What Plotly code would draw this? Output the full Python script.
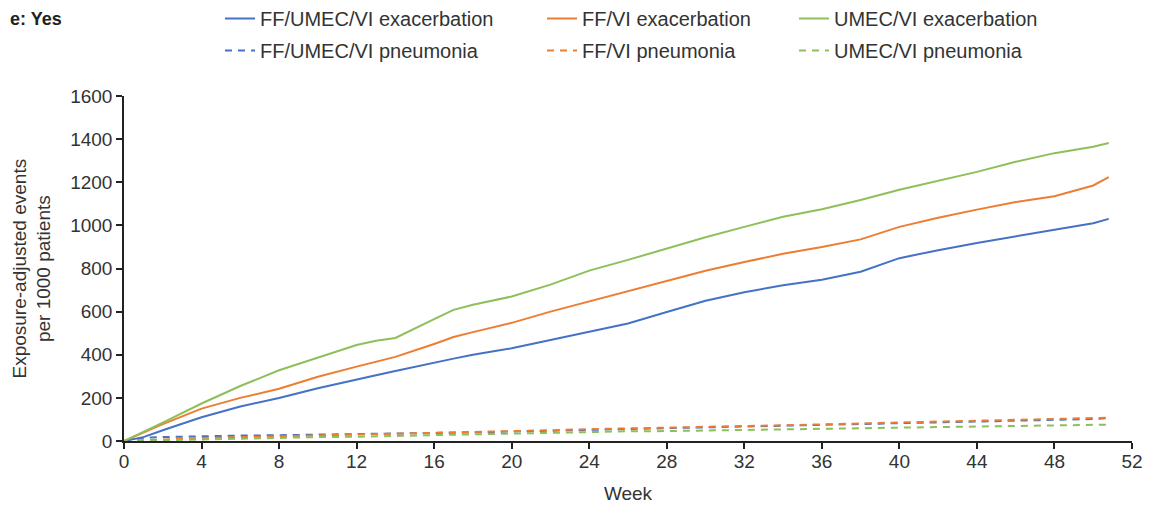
import plotly.graph_objects as go

weeks = [0, 1, 2, 4, 6, 8, 10, 12, 13, 14, 16, 17, 18, 20, 22, 24, 26, 28, 30, 32,
         34, 36, 38, 40, 42, 44, 46, 48, 50, 50.8]

triple_exac = [0, 18, 50, 110, 160, 199, 245, 283, 305, 325, 365, 382, 400, 430, 468, 507,
               545, 598, 650, 690, 722, 748, 785, 848, 885, 918, 950, 980, 1010, 1030]
ffvi_exac = [0, 40, 78, 150, 200, 242, 298, 345, 368, 390, 450, 482, 505, 548, 600, 648,
             695, 745, 790, 830, 868, 900, 935, 993, 1035, 1073, 1108, 1135, 1185, 1224]
umecvi_exac = [0, 42, 85, 174, 255, 328, 385, 445, 465, 478, 565, 608, 632, 670, 725, 790,
               840, 893, 945, 993, 1040, 1075, 1118, 1165, 1208, 1248, 1295, 1335, 1365, 1382]

triple_pneu = [0, 15, 18, 23, 25, 27, 29, 32, 33, 34, 36, 38, 40, 44, 48, 52,
               56, 60, 64, 67, 70, 74, 77, 82, 86, 90, 94, 98, 102, 106]
ffvi_pneu = [0, 4, 8, 14, 18, 22, 25, 28, 30, 31, 35, 37, 40, 45, 50, 55,
             58, 62, 66, 70, 73, 77, 80, 86, 90, 94, 98, 102, 105, 108]
umecvi_pneu = [0, 2, 4, 8, 12, 16, 18, 20, 22, 24, 28, 30, 32, 36, 40, 43,
               45, 46, 48, 50, 53, 56, 59, 62, 65, 68, 70, 72, 74, 76]

x_ticks = list(range(0, 53, 4))
y_ticks = list(range(0, 1601, 200))

BLUE = "#4472C4"
ORANGE = "#ED7D31"
GREEN = "#8DBF5A"
FONT = "Arial, Liberation Sans, sans-serif"
TXT = "#333333"

series = [
    ("FF/UMEC/VI exacerbation", triple_exac, BLUE, "solid", "legend"),
    ("FF/UMEC/VI pneumonia", triple_pneu, BLUE, "7px,6px", "legend"),
    ("FF/VI exacerbation", ffvi_exac, ORANGE, "solid", "legend2"),
    ("FF/VI pneumonia", ffvi_pneu, ORANGE, "7px,6px", "legend2"),
    ("UMEC/VI exacerbation", umecvi_exac, GREEN, "solid", "legend3"),
    ("UMEC/VI pneumonia", umecvi_pneu, GREEN, "7px,6px", "legend3"),
]

fig = go.Figure()
# draw pneumonia first so exacerbation lines sit on top
order = [1, 3, 5, 0, 2, 4]
for i in order:
    name, vals, col, dash, leg = series[i]
    fig.add_trace(go.Scatter(
        x=weeks, y=vals, mode="lines", name=name,
        line=dict(color=col, width=2, dash=dash),
        legend=leg, legendgroup=name, legendrank=i,
    ))

W, H = 1158, 507
ML, MR, MT, MB = 116, 34, 88, 74
PW, PH = W - ML - MR, H - MT - MB

LEG_TOP = 1 + (MT + 9) / PH
common_leg = dict(orientation="v", xanchor="left", yanchor="top", yref="paper",
                  xref="paper", font=dict(family=FONT, size=20, color=TXT),
                  bgcolor="rgba(0,0,0,0)", tracegroupgap=3, traceorder="grouped")

xaxis_cfg = dict(
    range=[0, 52], tickvals=x_ticks, ticks="outside", ticklen=6, tickwidth=1.5,
    tickcolor="#222", showline=True, linecolor="#222", linewidth=1.5,
    showgrid=False, zeroline=False, automargin=False,
    tickfont=dict(family=FONT, size=19, color=TXT),
    title=dict(text="Week", font=dict(family=FONT, size=19, color=TXT), standoff=12),
)
yaxis_cfg = dict(
    range=[0, 1600], tickvals=y_ticks, ticks="outside", ticklen=6, tickwidth=1.5,
    tickcolor="#222", showline=True, linecolor="#222", linewidth=1.5,
    showgrid=False, zeroline=False, automargin=False,
    tickfont=dict(family=FONT, size=19, color=TXT),
)

fig.update_layout(
    width=W, height=H,
    margin=dict(l=ML, r=MR, t=MT, b=MB, autoexpand=False),
    paper_bgcolor="white", plot_bgcolor="white",
    font=dict(family=FONT, size=19, color=TXT),
    legend=dict(x=(212 - ML) / PW, y=LEG_TOP, **common_leg),
    legend2=dict(x=(534 - ML) / PW, y=LEG_TOP, **common_leg),
    legend3=dict(x=(786 - ML) / PW, y=LEG_TOP, **common_leg),
    xaxis=xaxis_cfg,
    yaxis=yaxis_cfg,
    annotations=[
        dict(
            text="<b>e: Yes</b>", xref="paper", yref="paper",
            x=(0 - ML) / PW, y=1 + (MT - 11) / PH, xanchor="left", yanchor="middle",
            showarrow=False, font=dict(family=FONT, size=18, color="#222"),
        ),
        dict(
            text="Exposure-adjusted events<br>per 1000 patients", xref="paper", yref="paper",
            x=(23 - ML) / PW, y=0.5, xanchor="center", yanchor="middle", textangle=-90,
            showarrow=False, font=dict(family=FONT, size=19, color=TXT),
        ),
    ],
)

try:
    fig.update_xaxes(ticklabelstandoff=-4)
    fig.update_xaxes(title_standoff=16)
except Exception:
    pass

fig.write_html("out.html")
